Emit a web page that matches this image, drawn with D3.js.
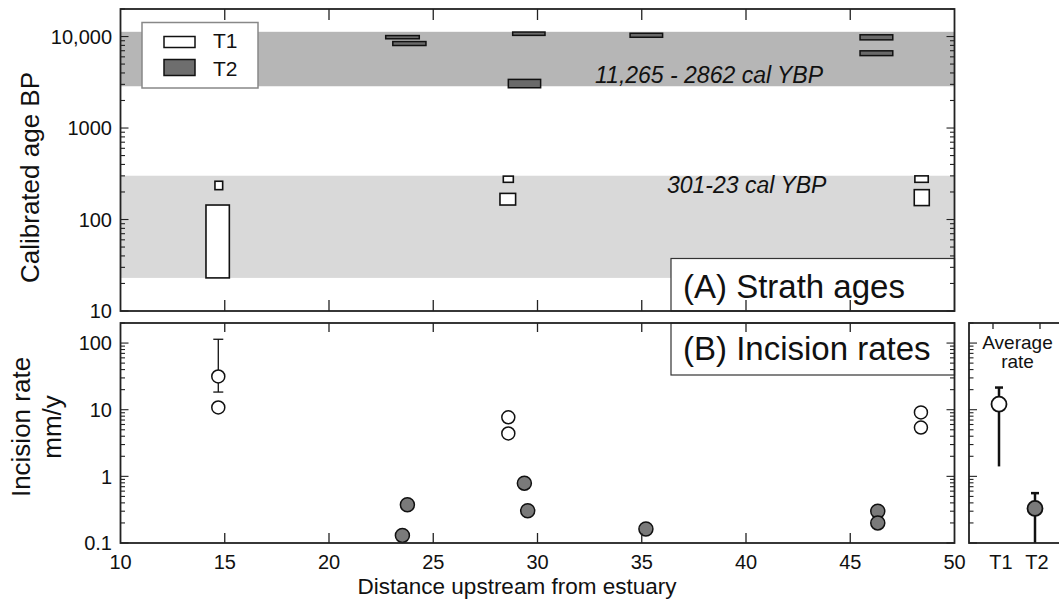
<!DOCTYPE html>
<html><head><meta charset="utf-8">
<script src="https://cdn.jsdelivr.net/npm/d3@7"></script>
<style>
body{margin:0;background:#fff}
svg{display:block}
text{font-family:"Liberation Sans",Arial,Helvetica,sans-serif;fill:#111}
</style>
</head><body>
<svg id="chart" width="1059" height="609"></svg>
<script>
// ---------- data ----------
const xTickValues = [10,15,20,25,30,35,40,45,50];
const ageTickValues = [10,100,1000,10000];
const ageTickLabels = ["10","100","1000","10,000"];
const rateTickValues = [0.1,1,10,100];
const rateTickLabels = ["0.1","1","10","100"];
const avgCategories = ["T1","T2"];

// age bands (cal YBP)
const bandT2 = [2862, 11265];
const bandT1 = [23, 301];
const bandT2Label = "11,265 - 2862 cal YBP";
const bandT1Label = "301-23 cal YBP";

// T1 strath age boxes: distance range (km) and age range (cal BP)
const t1DistLo = [14.10, 14.53, 28.36, 28.20, 48.10, 48.07];
const t1DistHi = [15.22, 14.90, 28.84, 28.95, 48.74, 48.79];
const t1AgeLo  = [23, 212, 255, 144, 255, 142];
const t1AgeHi  = [144, 262, 298, 193, 300, 212];

// T2 strath age boxes
const t2DistLo = [22.72, 23.06, 28.81, 28.60, 34.44, 45.47, 45.47];
const t2DistHi = [24.33, 24.65, 30.36, 30.15, 36.00, 47.04, 47.04];
const t2AgeLo  = [9450, 7980, 10300, 2755, 9820, 9200, 6190];
const t2AgeHi  = [10250, 8810, 11200, 3400, 10860, 10450, 6980];

// incision rates (mm/y)
const t1RateDist = [14.69, 14.69, 28.60, 28.60, 48.39, 48.39];
const t1Rate     = [31.5, 10.8, 7.7, 4.4, 9.1, 5.4];
const t1ErrDist = [14.69];
const t1ErrLo   = [18.4];
const t1ErrHi   = [114];

const t2RateDist = [23.52, 23.76, 29.37, 29.53, 35.20, 46.32, 46.32];
const t2Rate     = [0.13, 0.375, 0.79, 0.305, 0.162, 0.30, 0.20];

// average rates
const avgRate   = [12.1, 0.33];
const avgRateLo = [1.41, 0.1];
const avgRateHi = [21.5, 0.56];

// ---------- drawing ----------
const svg = d3.select("#chart");
svg.append("rect").attr("width",1059).attr("height",609).attr("fill","#fff");

const axisCol = "#222";
const xA = d3.scaleLinear().domain([10,50]).range([120.5,954.5]);
const yA = d3.scaleLog().domain([10,20000]).range([311,9]);
const yB = d3.scaleLog().domain([0.1,200]).range([543,323]);
const xR = d3.scalePoint().domain(avgCategories).range([999,1035]);

const isMajor = v => Math.abs(Math.log10(v) - Math.round(Math.log10(v))) < 1e-9;

// ===== Panel A =====
const gA = svg.append("g");
gA.append("rect").attr("x",xA(10)).attr("width",xA(50)-xA(10))
  .attr("y",yA(bandT2[1])).attr("height",yA(bandT2[0])-yA(bandT2[1])).attr("fill","#b6b6b6");
gA.append("rect").attr("x",xA(10)).attr("width",xA(50)-xA(10))
  .attr("y",yA(bandT1[1])).attr("height",yA(bandT1[0])-yA(bandT1[1])).attr("fill","#d9d9d9");

gA.append("text").attr("x",595).attr("y",82.5).attr("font-size",23).attr("font-style","italic").text(bandT2Label);
gA.append("text").attr("x",667).attr("y",192.5).attr("font-size",23).attr("font-style","italic").text(bandT1Label);

// T2 boxes
gA.selectAll(".t2box").data(d3.range(t2DistLo.length)).join("rect")
  .attr("x",i=>xA(t2DistLo[i])).attr("width",i=>xA(t2DistHi[i])-xA(t2DistLo[i]))
  .attr("y",i=>yA(t2AgeHi[i])).attr("height",i=>yA(t2AgeLo[i])-yA(t2AgeHi[i]))
  .attr("fill","#6a6a6a").attr("stroke","#111").attr("stroke-width",1.5);
// T1 boxes
gA.selectAll(".t1box").data(d3.range(t1DistLo.length)).join("rect")
  .attr("x",i=>xA(t1DistLo[i])).attr("width",i=>xA(t1DistHi[i])-xA(t1DistLo[i]))
  .attr("y",i=>yA(t1AgeHi[i])).attr("height",i=>yA(t1AgeLo[i])-yA(t1AgeHi[i]))
  .attr("fill","#fff").attr("stroke","#111").attr("stroke-width",1.6);

// label box A
gA.append("rect").attr("x",671).attr("y",258.5).attr("width",xA(50)-671).attr("height",311-258.5)
  .attr("fill","#fff").attr("stroke","#333").attr("stroke-width",1.2);
gA.append("text").attr("x",683).attr("y",298).attr("font-size",33).text("(A) Strath ages");

// legend
const lg = gA.append("g");
lg.append("rect").attr("x",142).attr("y",22.5).attr("width",116).attr("height",65.5)
  .attr("fill","#fff").attr("stroke","#888").attr("stroke-width",1.5);
lg.append("rect").attr("x",164).attr("y",36.5).attr("width",31).attr("height",11)
  .attr("fill","#fff").attr("stroke","#111").attr("stroke-width",1.5);
lg.append("rect").attr("x",164).attr("y",59.5).attr("width",31).attr("height",16)
  .attr("fill","#6e6e6e").attr("stroke","#111").attr("stroke-width",1.5);
lg.append("text").attr("x",213).attr("y",48).attr("font-size",21).text("T1");
lg.append("text").attr("x",213).attr("y",75.5).attr("font-size",21).text("T2");

// frame A
gA.append("rect").attr("x",xA(10)).attr("y",9).attr("width",xA(50)-xA(10)).attr("height",302)
  .attr("fill","none").attr("stroke",axisCol).attr("stroke-width",1.8);

// ticks A
const agTicks = yA.ticks().filter(v=>v>=10 && v<=20000);
agTicks.forEach(v=>{
  const L = isMajor(v)?8:4.5;
  gA.append("line").attr("x1",xA(10)).attr("x2",xA(10)+L).attr("y1",yA(v)).attr("y2",yA(v)).attr("stroke",axisCol).attr("stroke-width",1.1);
  gA.append("line").attr("x1",xA(50)).attr("x2",xA(50)-L).attr("y1",yA(v)).attr("y2",yA(v)).attr("stroke",axisCol).attr("stroke-width",1.1);
});
xTickValues.slice(1,-1).forEach(v=>{
  gA.append("line").attr("x1",xA(v)).attr("x2",xA(v)).attr("y1",9).attr("y2",20).attr("stroke",axisCol).attr("stroke-width",1.3);
  gA.append("line").attr("x1",xA(v)).attr("x2",xA(v)).attr("y1",311).attr("y2",300).attr("stroke",axisCol).attr("stroke-width",1.3);
});
ageTickValues.forEach((v,i)=>{
  gA.append("text").attr("x",112).attr("y",yA(v)).attr("dy","0.36em").attr("text-anchor","end")
    .attr("font-size",20).text(ageTickLabels[i]);
});
svg.append("text").attr("transform","translate(38.5,177.5) rotate(-90)").attr("text-anchor","middle")
  .attr("font-size",26).text("Calibrated age BP");

// ===== Panel B =====
const gB = svg.append("g");
// label box B
gB.append("rect").attr("x",671).attr("y",323).attr("width",xA(50)-671).attr("height",52)
  .attr("fill","#fff").attr("stroke","#333").attr("stroke-width",1.2);
gB.append("text").attr("x",683).attr("y",360).attr("font-size",33).text("(B) Incision rates");

// error bar
d3.range(t1ErrDist.length).forEach(i=>{
  const x = xA(t1ErrDist[i]);
  gB.append("line").attr("x1",x).attr("x2",x).attr("y1",yB(t1ErrHi[i])).attr("y2",yB(t1ErrLo[i])).attr("stroke","#111").attr("stroke-width",1.3);
  [t1ErrHi[i],t1ErrLo[i]].forEach(v=>gB.append("line").attr("x1",x-5).attr("x2",x+5).attr("y1",yB(v)).attr("y2",yB(v)).attr("stroke","#111").attr("stroke-width",1.3));
});
gB.selectAll(".t2pt").data(d3.range(t2Rate.length)).join("circle")
  .attr("cx",i=>xA(t2RateDist[i])).attr("cy",i=>yB(t2Rate[i])).attr("r",7)
  .attr("fill","#7a7a7a").attr("stroke","#111").attr("stroke-width",1.5);
gB.selectAll(".t1pt").data(d3.range(t1Rate.length)).join("circle")
  .attr("cx",i=>xA(t1RateDist[i])).attr("cy",i=>yB(t1Rate[i])).attr("r",6.5)
  .attr("fill","#fff").attr("stroke","#111").attr("stroke-width",1.5);

gB.append("rect").attr("x",xA(10)).attr("y",323).attr("width",xA(50)-xA(10)).attr("height",220)
  .attr("fill","none").attr("stroke",axisCol).attr("stroke-width",1.8);
const rTicks = yB.ticks().filter(v=>v>=0.1 && v<=200);
rTicks.forEach(v=>{
  const L = isMajor(v)?8:4.5;
  gB.append("line").attr("x1",xA(10)).attr("x2",xA(10)+L).attr("y1",yB(v)).attr("y2",yB(v)).attr("stroke",axisCol).attr("stroke-width",1.1);
  gB.append("line").attr("x1",xA(50)).attr("x2",xA(50)-L).attr("y1",yB(v)).attr("y2",yB(v)).attr("stroke",axisCol).attr("stroke-width",1.1);
});
xTickValues.slice(1,-1).forEach(v=>{
  gB.append("line").attr("x1",xA(v)).attr("x2",xA(v)).attr("y1",323).attr("y2",332).attr("stroke",axisCol).attr("stroke-width",1.3);
  gB.append("line").attr("x1",xA(v)).attr("x2",xA(v)).attr("y1",543).attr("y2",533).attr("stroke",axisCol).attr("stroke-width",1.3);
});
rateTickValues.forEach((v,i)=>{
  gB.append("text").attr("x",112).attr("y",yB(v)).attr("dy","0.36em").attr("text-anchor","end")
    .attr("font-size",20).text(rateTickLabels[i]);
});
xTickValues.forEach(v=>{
  gB.append("text").attr("x",xA(v)).attr("y",569).attr("text-anchor","middle").attr("font-size",20).text(String(v));
});
svg.append("text").attr("x",517).attr("y",594).attr("text-anchor","middle").attr("font-size",22.5)
  .text("Distance upstream from estuary");
const yt = svg.append("text").attr("transform","translate(0,427) rotate(-90)").attr("text-anchor","middle").attr("font-size",26);
yt.append("tspan").attr("x",0).attr("y",30).text("Incision rate");
yt.append("tspan").attr("x",0).attr("y",61).text("mm/y");

// ===== Right panel: average rate =====
const gR = svg.append("g");
avgCategories.forEach((c,i)=>{
  const x = xR(c);
  const lo = Math.max(avgRateLo[i], 0.1);
  gR.append("line").attr("x1",x).attr("x2",x).attr("y1",yB(avgRateHi[i])).attr("y2",yB(lo)).attr("stroke","#111").attr("stroke-width",2.5);
  gR.append("line").attr("x1",x-4).attr("x2",x+4).attr("y1",yB(avgRateHi[i])).attr("y2",yB(avgRateHi[i])).attr("stroke","#111").attr("stroke-width",2.5);
  gR.append("circle").attr("cx",x).attr("cy",yB(avgRate[i])).attr("r",7.5)
    .attr("fill",i===0?"#fff":"#7a7a7a").attr("stroke","#111").attr("stroke-width",1.8);
  gR.append("text").attr("x",x+2).attr("y",569).attr("text-anchor","middle").attr("font-size",20).text(c);
  gR.append("line").attr("x1",x+(i===0?-6:5)).attr("x2",x+(i===0?-6:5)).attr("y1",323).attr("y2",329).attr("stroke",axisCol).attr("stroke-width",1.3);
});
gR.append("rect").attr("x",969).attr("y",323).attr("width",130).attr("height",220)
  .attr("fill","none").attr("stroke",axisCol).attr("stroke-width",1.8);
rTicks.forEach(v=>{
  const L = isMajor(v)?8:4.5;
  gR.append("line").attr("x1",969).attr("x2",969+L).attr("y1",yB(v)).attr("y2",yB(v)).attr("stroke",axisCol).attr("stroke-width",1.1);
});
gR.append("text").attr("x",1017.5).attr("y",349).attr("text-anchor","middle").attr("font-size",19).text("Average");
gR.append("text").attr("x",1017.5).attr("y",368).attr("text-anchor","middle").attr("font-size",19).text("rate");
</script>
</body></html>
